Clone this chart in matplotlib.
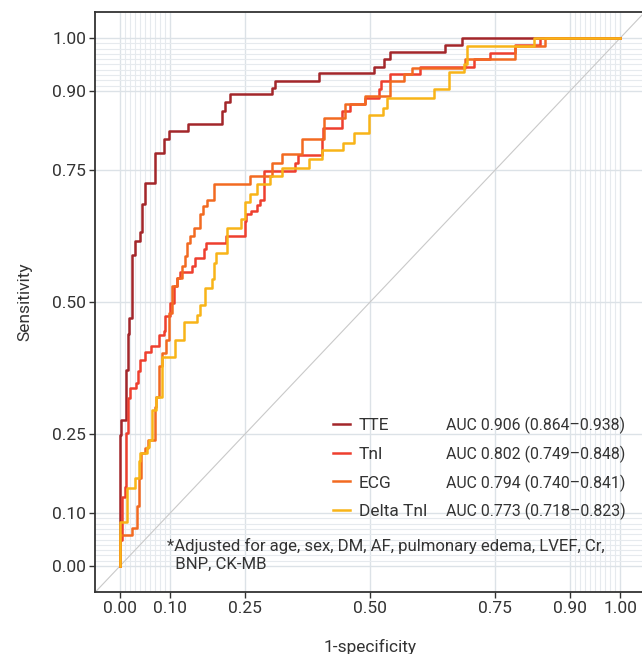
import numpy as np
import matplotlib
matplotlib.use("Agg")
import matplotlib.pyplot as plt
from matplotlib.lines import Line2D

plt.rcParams['font.family'] = ['Roboto', 'DejaVu Sans']

# ROC curves (1-specificity, sensitivity), steps-post
tte_fpr = [0, 0, 0.002, 0.011, 0.015, 0.018, 0.023, 0.029, 0.04, 0.043, 0.049, 0.07, 0.087, 0.098,
           0.135, 0.203, 0.21, 0.22, 0.303, 0.31, 0.397, 0.508, 0.528, 0.539, 0.65, 0.683, 1.0]
tte_tpr = [0, 0.249, 0.277, 0.372, 0.44, 0.47, 0.59, 0.615, 0.632, 0.685, 0.726, 0.782, 0.808, 0.824,
           0.837, 0.862, 0.878, 0.894, 0.905, 0.919, 0.934, 0.946, 0.96, 0.974, 0.987, 1.0, 1.0]

tnl_fpr = [0, 0, 0.003, 0.01, 0.011, 0.015, 0.02, 0.031, 0.035, 0.04, 0.049, 0.062, 0.077, 0.087,
           0.09, 0.1, 0.107, 0.113, 0.119, 0.143, 0.15, 0.167, 0.172, 0.212, 0.25, 0.252, 0.261, 0.273,
           0.28, 0.288, 0.35, 0.356, 0.404, 0.406, 0.443, 0.46, 0.49, 0.517, 0.521, 0.54, 0.6, 0.707,
           0.74, 0.79, 0.84, 1.0]
tnl_tpr = [0, 0.05, 0.131, 0.15, 0.252, 0.319, 0.338, 0.347, 0.369, 0.39, 0.405, 0.416, 0.438, 0.445,
           0.473, 0.499, 0.53, 0.546, 0.557, 0.569, 0.584, 0.6, 0.612, 0.625, 0.653, 0.666, 0.672, 0.683,
           0.694, 0.748, 0.764, 0.778, 0.808, 0.83, 0.862, 0.875, 0.887, 0.903, 0.919, 0.932, 0.946, 0.96,
           0.972, 0.987, 1.0, 1.0]

ecg_fpr = [0, 0, 0.023, 0.033, 0.037, 0.042, 0.05, 0.055, 0.069, 0.072, 0.077, 0.083, 0.091, 0.097,
           0.103, 0.113, 0.123, 0.13, 0.133, 0.14, 0.147, 0.16, 0.165, 0.173, 0.187, 0.259, 0.303, 0.323,
           0.363, 0.407, 0.45, 0.49, 0.539, 0.567, 0.583, 0.69, 0.79, 0.85, 1.0]
ecg_tpr = [0, 0.059, 0.072, 0.113, 0.167, 0.214, 0.223, 0.239, 0.302, 0.321, 0.378, 0.404, 0.429, 0.48,
           0.53, 0.545, 0.568, 0.587, 0.612, 0.625, 0.641, 0.666, 0.682, 0.694, 0.723, 0.739, 0.764, 0.78,
           0.808, 0.849, 0.875, 0.891, 0.919, 0.932, 0.944, 0.96, 0.984, 1.0, 1.0]

dtnl_fpr = [0, 0, 0.013, 0.029, 0.037, 0.04, 0.053, 0.058, 0.063, 0.071, 0.083, 0.11, 0.127, 0.153,
            0.16, 0.169, 0.183, 0.187, 0.192, 0.213, 0.241, 0.25, 0.259, 0.273, 0.3, 0.323, 0.377, 0.403,
            0.445, 0.467, 0.498, 0.525, 0.533, 0.627, 0.657, 0.687, 0.693, 0.827, 1.0]
dtnl_tpr = [0, 0.084, 0.147, 0.167, 0.198, 0.214, 0.226, 0.239, 0.296, 0.321, 0.395, 0.429, 0.462, 0.476,
            0.495, 0.527, 0.543, 0.574, 0.592, 0.641, 0.657, 0.689, 0.704, 0.723, 0.739, 0.753, 0.77, 0.788,
            0.802, 0.82, 0.854, 0.868, 0.887, 0.903, 0.935, 0.951, 0.984, 1.0, 1.0]

names = ["TTE", "Tnl", "ECG", "Delta Tnl"]
auc_labels = ["AUC 0.906 (0.864\u20130.938)", "AUC 0.802 (0.749\u20130.848)",
              "AUC 0.794 (0.740\u20130.841)", "AUC 0.773 (0.718\u20130.823)"]
colors = ["#A3262A", "#EE3F2E", "#F26A21", "#F8B418"]

ticks = [0.0, 0.10, 0.25, 0.50, 0.75, 0.90, 1.00]
tick_labels = ["0.00", "0.10", "0.25", "0.50", "0.75", "0.90", "1.00"]
minor = [v / 100 for v in range(1, 10)] + [v / 100 for v in range(91, 100)]

txt = "#333333"

fig = plt.figure(figsize=(6.42, 6.54), dpi=100)
ax = fig.add_axes([0.148, 0.0942, 0.857, 0.888])

curves = [(tte_fpr, tte_tpr), (tnl_fpr, tnl_tpr), (ecg_fpr, ecg_tpr), (dtnl_fpr, dtnl_tpr)]
for (fx, fy), c, n in zip(curves, colors, names):
    ax.plot(fx, fy, drawstyle="steps-post", color=c, lw=1.8, label=n, zorder=3)

ax.axline((0, 0), (1, 1), color="#C9C9C9", lw=0.8, zorder=2)

ax.set_xlim(-0.05, 1.05)
ax.set_ylim(-0.05, 1.05)
ax.set_xticks(ticks)
ax.set_xticklabels(tick_labels)
ax.set_yticks(ticks)
ax.set_yticklabels(tick_labels)
ax.set_xticks(minor, minor=True)
ax.set_yticks(minor, minor=True)
ax.grid(True, which="major", color="#DCE2E7", lw=1.0, zorder=0)
ax.grid(True, which="minor", color="#E6EAEE", lw=0.8, zorder=0)
ax.tick_params(which="minor", length=0)
ax.tick_params(which="major", length=4, width=1, color="#333333", labelsize=12.5,
               labelcolor=txt, pad=2.5)
for s in ax.spines.values():
    s.set_color("#333333")
    s.set_linewidth(1.3)

ax.set_xlabel("1-specificity", fontsize=12.5, color=txt, labelpad=16)
ax.set_ylabel("Sensitivity", fontsize=12.5, color=txt, labelpad=14)

handles = [Line2D([0], [0], color=c, lw=1.8) for c in colors]
leg = ax.legend(handles, names, loc="upper left", bbox_to_anchor=(333 / 642, 1 - 418 / 654),
                bbox_transform=fig.transFigure, frameon=False, fontsize=12.5, borderpad=0,
                handlelength=1.0, handletextpad=0.5, labelspacing=0.78, borderaxespad=0)
for t in leg.get_texts():
    t.set_color(txt)

# AUC column, aligned with the legend rows
fig.canvas.draw()
inv = fig.transFigure.inverted()
for t, lab in zip(leg.get_texts(), auc_labels):
    bb = t.get_window_extent()
    yc = inv.transform((0, (bb.y0 + bb.y1) / 2))[1]
    fig.text(446 / 642, yc, lab, fontsize=11.4, color=txt, va="center", ha="left")

ax.text(0.094, 0.053, "*Adjusted for age, sex, DM, AF, pulmonary edema, LVEF, Cr,\n  BNP, CK-MB",
        fontsize=12.1, color=txt, va="top", ha="left", linespacing=1.25, zorder=4)

fig.savefig("out.png", dpi=100)
